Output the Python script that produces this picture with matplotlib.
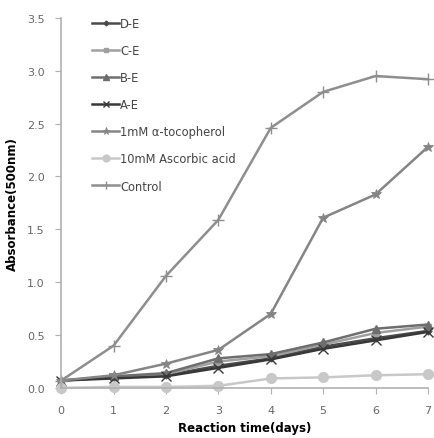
import numpy as np
import matplotlib
matplotlib.use('Agg')
import matplotlib.pyplot as plt

# reaction days and absorbance readings
days = [0, 1, 2, 3, 4, 5, 6, 7]

d_e = [0.07, 0.10, 0.12, 0.21, 0.28, 0.39, 0.47, 0.54]
c_e = [0.07, 0.10, 0.13, 0.25, 0.30, 0.41, 0.52, 0.58]
b_e = [0.07, 0.11, 0.14, 0.28, 0.32, 0.43, 0.56, 0.60]
a_e = [0.07, 0.09, 0.11, 0.19, 0.27, 0.37, 0.45, 0.53]
tocopherol = [0.07, 0.12, 0.23, 0.36, 0.70, 1.61, 1.83, 2.28]
ascorbic = [0.00, 0.01, 0.01, 0.02, 0.09, 0.10, 0.12, 0.13]
control = [0.07, 0.40, 1.06, 1.59, 2.46, 2.80, 2.95, 2.92]

labels = ['D-E', 'C-E', 'B-E', 'A-E', '1mM \u03b1-tocopherol',
          '10mM Ascorbic acid', 'Control']
series = [d_e, c_e, b_e, a_e, tocopherol, ascorbic, control]
colors = ['#4a4a4a', '#a0a0a0', '#6e6e6e', '#383838', '#858585', '#c8c8c8', '#8e8e8e']
markers = ['D', 's', '^', 'x', '*', 'o', '+']
sizes = [3.5, 5, 5.5, 6.5, 7.5, 7, 8]
edge_w = [1.0, 1.0, 1.0, 1.0, 0.6, 1.0, 1.0]

fig = plt.figure(figsize=(4.34, 4.39), dpi=100)
ax = fig.add_axes([0.141, 0.114, 0.845, 0.843])

for vals, lab, col, mk, ms, ew in zip(series, labels, colors, markers, sizes, edge_w):
    ax.plot(days, vals, color=col, marker=mk, markersize=ms, linewidth=1.8,
            markeredgewidth=ew, label=lab, clip_on=False)

ax.set_xlim(0, 7)
ax.set_ylim(0, 3.5)
ax.set_xticks(days)
ax.set_yticks(np.arange(0, 3.51, 0.5))
ax.set_yticklabels([f'{v:.1f}' for v in np.arange(0, 3.51, 0.5)])

for s in ['top', 'right']:
    ax.spines[s].set_visible(False)
for s in ['left', 'bottom']:
    ax.spines[s].set_color('#b0b0b0')
    ax.spines[s].set_linewidth(1.2)
ax.tick_params(colors='#b0b0b0', labelcolor='#666666', labelsize=8, length=4)
ax.tick_params(axis='x', pad=8)
ax.tick_params(axis='y', pad=8)

ax.set_xlabel('Reaction time(days)', fontsize=8.5, fontweight='bold', labelpad=3)
ax.set_ylabel('Absorbance(500nm)', fontsize=8.5, fontweight='bold', labelpad=4)
ax.yaxis.set_label_coords(-0.115, 0.5)
ax.xaxis.set_label_coords(0.5, -0.09)

leg = ax.legend(loc='upper left', bbox_to_anchor=(0.055, 1.03), frameon=False,
                fontsize=8.3, handlelength=2.4, handletextpad=0.05, labelspacing=1.22,
                labelcolor='#444444', markerscale=0.7)

fig.savefig('out.png', dpi=100)
